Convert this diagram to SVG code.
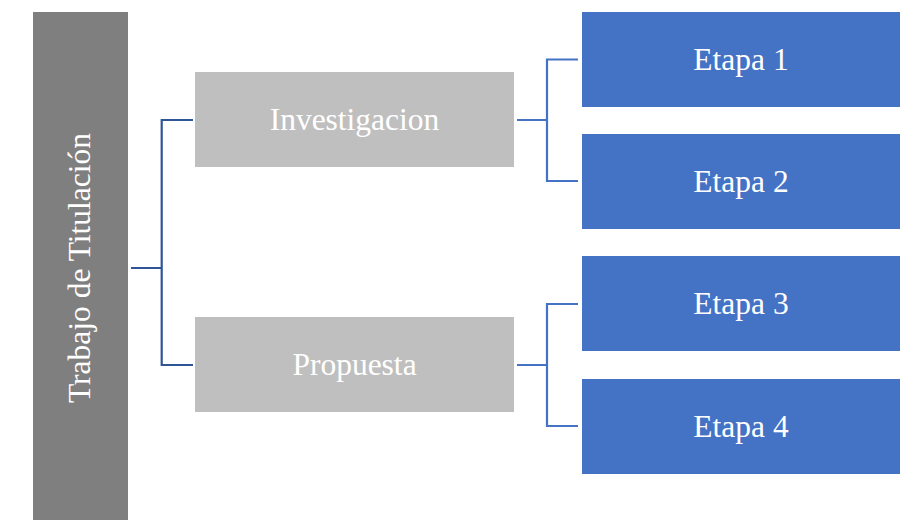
<svg xmlns="http://www.w3.org/2000/svg" width="916" height="520" viewBox="0 0 916 520">
<style>
.t{font-family:"Liberation Serif","Times New Roman",serif;font-size:31.5px;fill:#fff;text-anchor:middle}
.blue{fill:#4472C4}
.lg{fill:#BFBFBF}
.c1{fill:none;stroke:#2F5597;stroke-width:2.2}
.c2{fill:none;stroke:#4472C4;stroke-width:2.2}
</style>
<rect width="916" height="520" fill="#fff"/>
<g id="connectors">
<path class="c1" d="M131 268 H161.7 M193 120 H161.7 V365 H193"/>
<path class="c2" d="M517 120 H547 M578 59.5 H547 V181 H578"/>
<path class="c2" d="M517 365 H547 M578 304 H547 V426 H578"/>
</g>
<g id="root">
<rect x="33" y="12" width="95" height="510" fill="#7F7F7F"/>
<text class="t" transform="translate(90 268) rotate(-90)">Trabajo de Titulación</text>
</g>
<g id="investigacion">
<rect class="lg" x="195" y="72" width="319" height="95"/>
<text class="t" x="354.5" y="130">Investigacion</text>
</g>
<g id="propuesta">
<rect class="lg" x="195" y="317" width="319" height="95"/>
<text class="t" x="354.5" y="375">Propuesta</text>
</g>
<g id="etapa1">
<rect class="blue" x="582" y="12" width="318" height="95"/>
<text class="t" x="741" y="70">Etapa 1</text>
</g>
<g id="etapa2">
<rect class="blue" x="582" y="134" width="318" height="95"/>
<text class="t" x="741" y="192">Etapa 2</text>
</g>
<g id="etapa3">
<rect class="blue" x="582" y="256" width="318" height="95"/>
<text class="t" x="741" y="314">Etapa 3</text>
</g>
<g id="etapa4">
<rect class="blue" x="582" y="379" width="318" height="95"/>
<text class="t" x="741" y="437">Etapa 4</text>
</g>
</svg>
